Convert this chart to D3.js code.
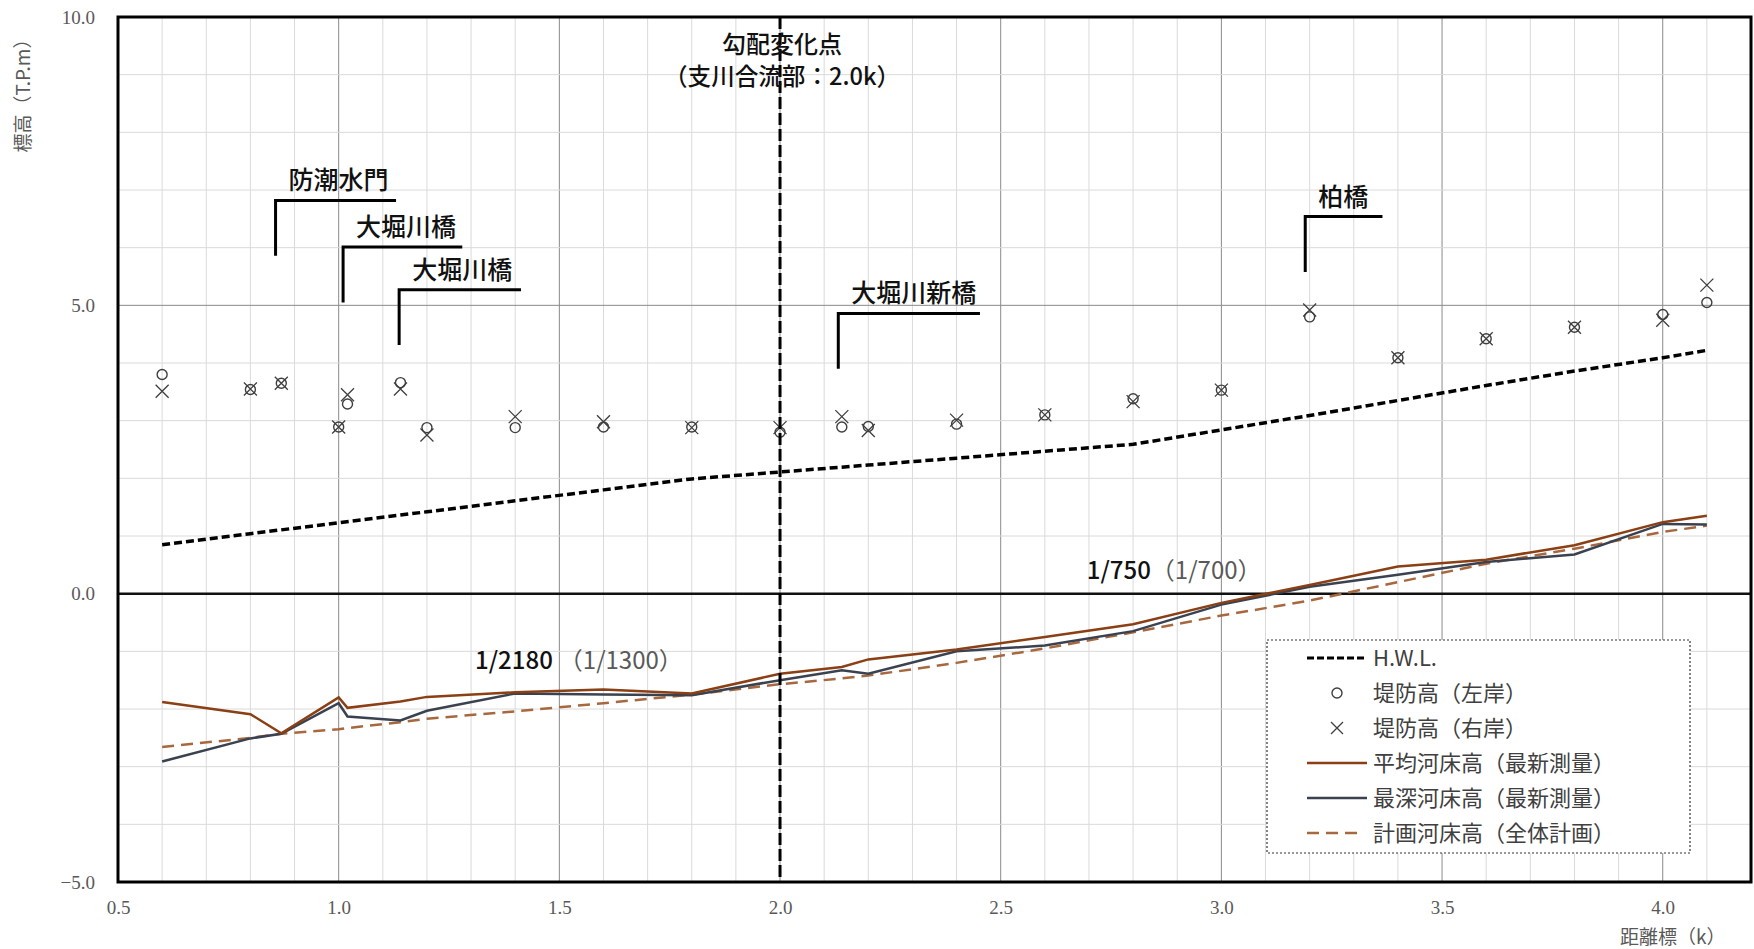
<!DOCTYPE html>
<html>
<head>
<meta charset="utf-8">
<script src="https://cdn.jsdelivr.net/npm/d3@7"></script>
<style>
  body { margin: 0; background: #fff; }
  svg { font-family: "Noto Sans CJK JP", "Noto Sans", sans-serif; }
</style>
</head>
<body>
<svg id="chart" width="1754" height="949"></svg>
<script>
// 距離標 (k) of the surveyed cross sections
const stations = [0.6, 0.8, 0.87, 1.0, 1.02, 1.14, 1.2, 1.4, 1.6, 1.8, 2.0, 2.14, 2.2, 2.4, 2.6, 2.8, 3.0, 3.2, 3.4, 3.6, 3.8, 4.0, 4.1];
// 堤防高（左岸・右岸） T.P.m
const leftBank  = [3.80, 3.54, 3.65, 2.89, 3.29, 3.66, 2.88, 2.88, 2.89, 2.89, 2.80, 2.89, 2.90, 2.94, 3.10, 3.38, 3.53, 4.80, 4.09, 4.42, 4.62, 4.84, 5.05];
const rightBank = [3.51, 3.55, 3.65, 2.89, 3.45, 3.55, 2.75, 3.07, 2.98, 2.88, 2.88, 3.07, 2.83, 3.01, 3.10, 3.33, 3.53, 4.92, 4.09, 4.42, 4.62, 4.74, 5.35];
// 河床高 T.P.m
const avgBed  = [-1.88, -2.09, -2.42, -1.80, -1.98, -1.87, -1.79, -1.71, -1.66, -1.73, -1.39, -1.27, -1.14, -0.97, -0.75, -0.53, -0.16, 0.15, 0.47, 0.59, 0.84, 1.24, 1.35];
const deepBed = [-2.91, -2.51, -2.43, -1.90, -2.13, -2.20, -2.03, -1.73, -1.75, -1.76, -1.50, -1.33, -1.39, -1.00, -0.90, -0.65, -0.19, 0.12, 0.33, 0.55, 0.68, 1.21, 1.20];
const planBed = [-2.66, -2.50, -2.43, -2.35, -2.33, -2.23, -2.17, -2.04, -1.90, -1.75, -1.57, -1.47, -1.42, -1.20, -0.95, -0.67, -0.38, -0.12, 0.20, 0.52, 0.78, 1.07, 1.18];
// H.W.L.
const hwlKm = [0.6, 0.8, 1.0, 1.2, 1.4, 1.6, 1.8, 2.0, 2.2, 2.4, 2.6, 2.8, 3.0, 3.2, 3.4, 3.6, 3.8, 4.0, 4.1];
const hwl   = [0.85, 1.04, 1.23, 1.42, 1.61, 1.80, 1.99, 2.11, 2.23, 2.35, 2.47, 2.59, 2.84, 3.09, 3.35, 3.61, 3.86, 4.09, 4.22];
// 構造物
const bridgeNames = ["防潮水門", "大堀川橋", "大堀川橋", "大堀川新橋", "柏橋"];
const bridgeKm = [0.857, 1.01, 1.137, 2.132, 3.19];
// 勾配変化点
const breakKm = 2.0;
// axis ticks
const xTicks = [0.5, 1.0, 1.5, 2.0, 2.5, 3.0, 3.5, 4.0];
const yTicks = [-5, 0, 5, 10];
// legend entries
const legendLabels = ["H.W.L.", "堤防高（左岸）", "堤防高（右岸）", "平均河床高（最新測量）", "最深河床高（最新測量）", "計画河床高（全体計画）"];

const svg = d3.select("#chart");
const x = d3.scaleLinear().domain([0.5, 4.2]).range([118, 1751]);
const y = d3.scaleLinear().domain([-5, 10]).range([882, 17]);

const C = {
  avg: "#8a3f14",
  deep: "#3a4250",
  plan: "#a8683f",
  marker: "#3f3f3f",
  label: "#595959"
};

// grid
const grid = svg.append("g");
const minorX = d3.range(6, 42).map(d => d / 10);
grid.selectAll("line.vx").data(minorX).join("line")
  .attr("x1", d => x(d)).attr("x2", d => x(d))
  .attr("y1", y(10)).attr("y2", y(-5))
  .attr("stroke", d => Math.abs(d * 2 - Math.round(d * 2)) < 1e-6 ? "#8a8a8a" : "#dadada")
  .attr("stroke-width", 1);
const minorY = d3.range(-4, 10);
grid.selectAll("line.hy").data(minorY).join("line")
  .attr("x1", x(0.5)).attr("x2", x(4.2))
  .attr("y1", d => y(d)).attr("y2", d => y(d))
  .attr("stroke", d => d === 5 ? "#8a8a8a" : "#dadada")
  .attr("stroke-width", 1);
grid.append("line")
  .attr("x1", x(0.5)).attr("x2", x(4.2)).attr("y1", y(0)).attr("y2", y(0))
  .attr("stroke", "#111").attr("stroke-width", 2.5);

// axes
const yAxis = svg.append("g").attr("transform", `translate(${x(0.5)},0)`)
  .call(d3.axisLeft(y).tickValues(yTicks).tickFormat(d3.format(".1f")).tickSize(0).tickPadding(23));
const xAxis = svg.append("g").attr("transform", `translate(0,${y(-5)})`)
  .call(d3.axisBottom(x).tickValues(xTicks).tickFormat(d3.format(".1f")).tickSize(0).tickPadding(19));
[yAxis, xAxis].forEach(a => {
  a.select(".domain").remove();
  a.attr("font-family", null).attr("font-size", null);
  a.selectAll("text").style("font-family", "'Liberation Serif', serif")
    .style("font-size", "19px").attr("fill", C.label);
});

svg.append("text")
  .attr("transform", "translate(30,91) rotate(-90)")
  .attr("text-anchor", "middle").attr("font-size", 19).attr("fill", C.label)
  .text("標高（T.P.m）");
svg.append("text")
  .attr("x", 1620).attr("y", 944)
  .attr("font-size", 19).attr("fill", C.label)
  .text("距離標（k）");

// series
const line = d3.line().x(d => x(d[0])).y(d => y(d[1]));
const pairs = (xs, ys) => xs.map((v, i) => [v, ys[i]]);

svg.append("path").datum(pairs(hwlKm, hwl)).attr("d", line)
  .attr("fill", "none").attr("stroke", "#000").attr("stroke-width", 3.5).attr("stroke-dasharray", "8,4");
svg.append("path").datum(pairs(stations, planBed)).attr("d", line)
  .attr("fill", "none").attr("stroke", C.plan).attr("stroke-width", 2.5).attr("stroke-dasharray", "12,7");
svg.append("path").datum(pairs(stations, deepBed)).attr("d", line)
  .attr("fill", "none").attr("stroke", C.deep).attr("stroke-width", 2.5);
svg.append("path").datum(pairs(stations, avgBed)).attr("d", line)
  .attr("fill", "none").attr("stroke", C.avg).attr("stroke-width", 2.5);

// 堤防高 markers
svg.append("g").selectAll("circle").data(pairs(stations, leftBank)).join("circle")
  .attr("cx", d => x(d[0])).attr("cy", d => y(d[1])).attr("r", 5)
  .attr("fill", "none").attr("stroke", C.marker).attr("stroke-width", 1.4);
const cross = s => `M${-s},${-s}L${s},${s}M${-s},${s}L${s},${-s}`;
svg.append("g").selectAll("path").data(pairs(stations, rightBank)).join("path")
  .attr("transform", d => `translate(${x(d[0])},${y(d[1])})`)
  .attr("d", cross(6.5))
  .attr("fill", "none").attr("stroke", C.marker).attr("stroke-width", 1.3);

// 勾配変化点 line
svg.append("line")
  .attr("x1", x(breakKm)).attr("x2", x(breakKm)).attr("y1", y(10)).attr("y2", y(-5))
  .attr("stroke", "#000").attr("stroke-width", 3).attr("stroke-dasharray", "12,4");

// titles over the break line
svg.append("text").attr("x", x(breakKm) + 2).attr("y", 53)
  .attr("text-anchor", "middle").attr("font-size", 24).attr("font-weight", 500).attr("fill", "#111")
  .text("勾配変化点");
svg.append("text").attr("x", x(breakKm) + 2).attr("y", 85)
  .attr("text-anchor", "middle").attr("font-size", 24).attr("font-weight", 500).attr("fill", "#111")
  .attr("textLength", 236).attr("lengthAdjust", "spacingAndGlyphs")
  .text("（支川合流部：2.0k）");

// structure brackets: [top elevation, arm length in km]
const bracketLayout = [[6.82, 0.273], [6.01, 0.27], [5.27, 0.276], [4.86, 0.321], [6.54, 0.175]];
const bracketDrop = 0.96;
const br = svg.append("g");
bridgeNames.forEach((name, i) => {
  const [top, arm] = bracketLayout[i];
  const km = bridgeKm[i];
  br.append("path")
    .attr("d", `M${x(km)},${y(top - bracketDrop)}V${y(top)}H${x(km + arm)}`)
    .attr("fill", "none").attr("stroke", "#000").attr("stroke-width", 3);
  br.append("text").attr("x", x(km) + 13).attr("y", y(top) - 11)
    .attr("font-size", 25).attr("font-weight", 500).attr("fill", "#111")
    .text(name);
});

// gradient labels
const slopeLabels = [
  { km: 1.309, z: -1.3, main: "1/2180", sub: "（1/1300）", gap: 6 },
  { km: 2.695, z: 0.26, main: "1/750", sub: "（1/700）", gap: 0 }
];
slopeLabels.forEach(s => {
  const t = svg.append("text").attr("x", x(s.km)).attr("y", y(s.z)).attr("font-size", 24);
  t.append("tspan").attr("font-weight", 500).attr("fill", "#111").text(s.main);
  t.append("tspan").attr("dx", s.gap).attr("fill", C.label).text(s.sub);
});

// legend
const lg = svg.append("g");
lg.append("rect").attr("x", 1267).attr("y", 640).attr("width", 423).attr("height", 213)
  .attr("fill", "#fff").attr("stroke", "#333").attr("stroke-width", 1.2).attr("stroke-dasharray", "2,2");
const rowY = i => 658 + i * 35;
const sx0 = 1307, sx1 = 1367, mx = 1337;
lg.append("line").attr("x1", sx0).attr("x2", sx1).attr("y1", rowY(0)).attr("y2", rowY(0))
  .attr("stroke", "#000").attr("stroke-width", 3).attr("stroke-dasharray", "7,3");
lg.append("circle").attr("cx", mx).attr("cy", rowY(1)).attr("r", 5)
  .attr("fill", "none").attr("stroke", C.marker).attr("stroke-width", 1.4);
lg.append("path").attr("transform", `translate(${mx},${rowY(2)})`).attr("d", cross(6))
  .attr("stroke", C.marker).attr("stroke-width", 1.3);
lg.append("line").attr("x1", sx0).attr("x2", sx1).attr("y1", rowY(3)).attr("y2", rowY(3))
  .attr("stroke", C.avg).attr("stroke-width", 2.5);
lg.append("line").attr("x1", sx0).attr("x2", sx1).attr("y1", rowY(4)).attr("y2", rowY(4))
  .attr("stroke", C.deep).attr("stroke-width", 2.5);
lg.append("line").attr("x1", sx0).attr("x2", sx1 - 8).attr("y1", rowY(5)).attr("y2", rowY(5))
  .attr("stroke", C.plan).attr("stroke-width", 2.5).attr("stroke-dasharray", "12,7");
lg.selectAll("text.l").data(legendLabels).join("text")
  .attr("x", 1373).attr("y", (d, i) => rowY(i)).attr("dy", "0.36em")
  .attr("font-size", 22).attr("fill", "#404040")
  .text(d => d);

// plot frame
svg.append("rect").attr("x", x(0.5)).attr("y", y(10))
  .attr("width", x(4.2) - x(0.5)).attr("height", y(-5) - y(10))
  .attr("fill", "none").attr("stroke", "#000").attr("stroke-width", 3);
</script>
</body>
</html>
